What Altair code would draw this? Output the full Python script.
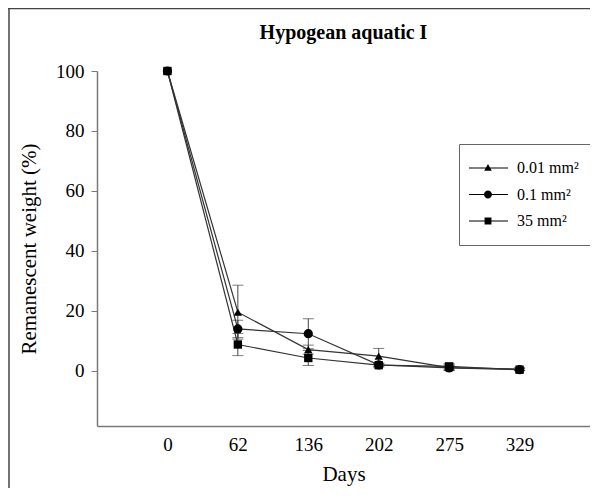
import altair as alt
import pandas as pd

days = ["0", "62", "136", "202", "275", "329"]
series_names = ["0.01 mm²", "0.1 mm²", "35 mm²"]
tri_vals = [100, 19.5, 7.0, 4.8, 1.0, 0.5]
tri_err = [0, 9.0, 1.5, 2.6, 1.0, 0.5]
cir_vals = [100, 13.9, 12.3, 1.9, 0.9, 0.3]
cir_err = [0, 2.9, 5.0, 0.6, 0.8, 0.3]
sq_vals = [100, 8.7, 4.2, 1.8, 1.4, 0.3]
sq_err = [0, 3.7, 2.5, 0.6, 1.0, 0.3]

rows = []
for name, vals, errs in zip(series_names, [tri_vals, cir_vals, sq_vals], [tri_err, cir_err, sq_err]):
    for d, v, e in zip(days, vals, errs):
        rows.append({"day": d, "series": name, "value": v, "lo": v - e, "hi": v + e, "err": e})
df = pd.DataFrame(rows)

FONT = "Liberation Serif"
AXIS_GRAY = "#7a7a7a"

x_enc = alt.X("day:O", sort=days, scale=alt.Scale(type="point", padding=1),
              axis=alt.Axis(title="Days", labelAngle=0, ticks=False, tickSize=0,
                            labelPadding=9, titlePadding=9, domainColor=AXIS_GRAY,
                            domainWidth=1.5, grid=False,
                            labelFont=FONT, labelFontSize=19, labelColor="black",
                            titleFont=FONT, titleFontSize=21, titleFontWeight="normal",
                            titleColor="black"))
y_scale = alt.Scale(domain=[-18.5, 100], nice=False, zero=False)
y_enc = alt.Y("value:Q", scale=y_scale,
              axis=alt.Axis(title="Remanescent weight (%)", values=[0, 20, 40, 60, 80, 100],
                            tickSize=6, tickColor=AXIS_GRAY, domainColor=AXIS_GRAY,
                            domainWidth=1.5, labelPadding=7, titlePadding=16, grid=False,
                            labelFont=FONT, labelFontSize=19, labelColor="black",
                            titleFont=FONT, titleFontSize=21, titleFontWeight="normal",
                            titleColor="black"))

base = alt.Chart(df)

lines = base.mark_line(color="#333333", strokeWidth=1.2).encode(
    x=x_enc, y=y_enc, detail="series:N")

err_df = df[df["err"] > 0]
ebase = alt.Chart(err_df)
err_rule = ebase.mark_rule(color="#444444", strokeWidth=1).encode(
    x=x_enc, y=alt.Y("lo:Q", scale=y_scale), y2="hi:Q")
err_lo = ebase.mark_tick(color="#444444", thickness=1, size=11).encode(
    x=x_enc, y=alt.Y("lo:Q", scale=y_scale))
err_hi = ebase.mark_tick(color="#444444", thickness=1, size=11).encode(
    x=x_enc, y=alt.Y("hi:Q", scale=y_scale))

shapes = ["triangle-up", "circle", "square"]
sizes = [70, 85, 70]
pts = []
for name, shp, sz in zip(series_names, shapes, sizes):
    pts.append(
        base.transform_filter(alt.datum.series == name)
        .mark_point(shape=shp, filled=True, color="black", size=sz, opacity=1)
        .encode(x=x_enc, y=y_enc)
    )

# legend-only layer: custom symbols = short line (thin filled bar) with the series marker
LINE = "M-1.75,-0.07H3.125V0.07H-1.75Z"
leg_paths = [
    LINE + "M0.625,-0.5L1.1,0.35L0.15,0.35Z",
    LINE + "M0.125,0A0.5,0.5,0,1,1,1.125,0A0.5,0.5,0,1,1,0.125,0Z",
    LINE + "M0.195,-0.43H1.055V0.43H0.195Z",
]
legend_layer = base.mark_point(filled=True, fill="black", opacity=0).encode(
    x=x_enc, y=y_enc,
    shape=alt.Shape("series:N", scale=alt.Scale(domain=series_names, range=leg_paths),
                    legend=alt.Legend(title=None, orient="none", legendX=362, legendY=73,
                                      strokeColor="#666666", padding=16,
                                      symbolSize=256, symbolOpacity=1,
                                      symbolFillColor="black", symbolStrokeWidth=0,
                                      labelOffset=26,
                                      labelFont=FONT, labelFontSize=16, labelColor="black",
                                      rowPadding=10.5)))

one = alt.Chart(pd.DataFrame({"a": [0]}))
frame_left = one.mark_rule(color="#444444", strokeWidth=1.5).encode(
    x=alt.value(-88), y=alt.value(-62.5), y2=alt.value(420))
frame_top = one.mark_rule(color="#444444", strokeWidth=1.5).encode(
    x=alt.value(-89), x2=alt.value(520), y=alt.value(-62.5))

chart = alt.layer(frame_left, frame_top, lines, err_rule, err_lo, err_hi, *pts, legend_layer).properties(
    width=493, height=355,
    background="white",
    autosize=alt.AutoSizeParams(type="none"),
    padding={"left": 89, "top": 63, "right": 0, "bottom": 62},
    title=alt.Title("Hypogean aquatic I", font=FONT, fontSize=20, fontWeight="bold",
                    anchor="middle", frame="group", offset=-51, color="black",
                    baseline="alphabetic"),
).configure_view(stroke=None)

chart.save("out.html", embed_options={"renderer": "svg", "actions": False})
